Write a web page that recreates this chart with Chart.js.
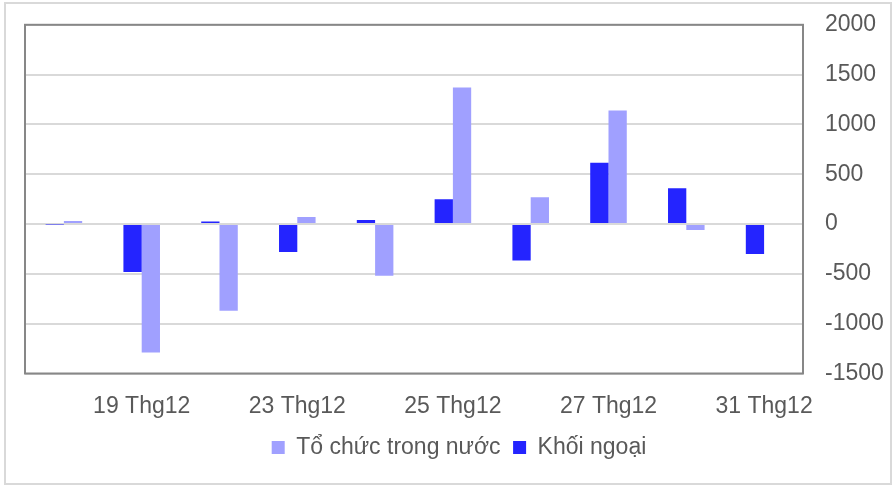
<!DOCTYPE html>
<html>
<head>
<meta charset="utf-8">
<script src="https://cdn.jsdelivr.net/npm/chart.js@4"></script>
<style>
  html, body { margin: 0; padding: 0; background: #ffffff; }
  #wrap { position: relative; width: 893px; height: 487px; }
  #frame { position: absolute; left: 4px; top: 2px; width: 884px; height: 479px; border: 2px solid #d9d9d9; box-sizing: content-box; pointer-events: none; }
  canvas { position: absolute; left: 0; top: 0; }
</style>
</head>
<body>
<div id="wrap">
  <div id="frame"></div>
  <canvas id="c" width="893" height="487"></canvas>
</div>
<script>
const categories = ["18 Thg12", "19 Thg12", "20 Thg12", "23 Thg12", "24 Thg12", "25 Thg12", "26 Thg12", "27 Thg12", "30 Thg12", "31 Thg12"];
const khoiNgoai = [-5, -480, 25, -280, 40, 250, -365, 615, 360, -300];
const toChucTrongNuoc = [30, -1290, -870, 70, -520, 1370, 270, 1140, -60, 0];
const yTicks = [2000, 1500, 1000, 500, 0, -500, -1000, -1500];

const plotBorder = {
  id: 'plotBorder',
  afterDatasetsDraw(chart) {
    const a = chart.chartArea, ctx = chart.ctx;
    ctx.save();
    ctx.strokeStyle = '#878787';
    ctx.lineWidth = 2;
    ctx.strokeRect(a.left, a.top, a.right - a.left, a.bottom - a.top);
    ctx.restore();
  }
};

const font = { family: "'Liberation Sans', Arial, sans-serif", size: 23 };

new Chart(document.getElementById('c'), {
  type: 'bar',
  data: {
    labels: categories,
    datasets: [
      { label: 'Khối ngoại', data: khoiNgoai, backgroundColor: '#2424FF', borderWidth: 0 },
      { label: 'Tổ chức trong nước', data: toChucTrongNuoc, backgroundColor: '#A0A0FF', borderWidth: 0 }
    ]
  },
  options: {
    responsive: false,
    animation: false,
    devicePixelRatio: 1,
    layout: { padding: { left: 25, top: 10, right: 0, bottom: 18 } },
    datasets: { bar: { barPercentage: 1, categoryPercentage: 0.47 } },
    plugins: {
      legend: {
        position: 'bottom',
        reverse: true,
        labels: { font: font, color: '#595959', boxWidth: 13, boxHeight: 13, padding: 12.5 }
      },
      tooltip: { enabled: false }
    },
    scales: {
      x: {
        grid: { display: false, drawTicks: false },
        border: { display: false },
        ticks: {
          font: font, color: '#595959', autoSkip: false, maxRotation: 0, padding: 19,
          callback: function (v, i) { return i % 2 === 1 ? categories[i] : ''; }
        },
        afterFit(s) { s.height = 50; }
      },
      y: {
        position: 'right',
        min: -1500, max: 2000,
        afterBuildTicks(s) { s.ticks = yTicks.map(v => ({ value: v })); },
        grid: { color: '#d9d9d9', lineWidth: 2, drawTicks: true, tickLength: 11, tickColor: 'rgba(0,0,0,0)' },
        border: { display: false },
        ticks: { font: font, color: '#595959', padding: 11, callback: v => String(v) },
        afterFit(s) { s.width = 90; }
      }
    }
  },
  plugins: [plotBorder]
});
</script>
</body>
</html>
